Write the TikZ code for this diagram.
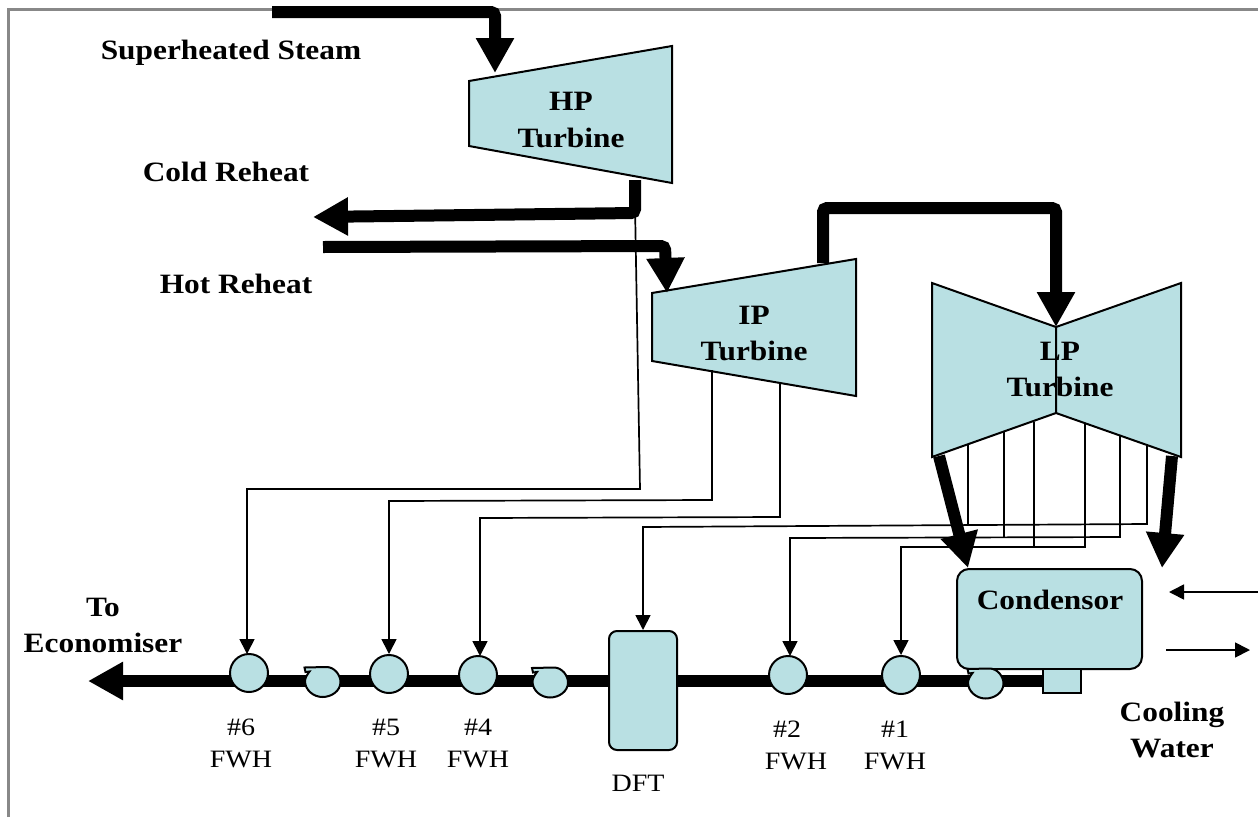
\documentclass[tikz,border=0pt]{standalone}
\usepackage{fontspec}
\setmainfont[FakeStretch=1.12]{Liberation Serif}
\usetikzlibrary{arrows.meta}
\definecolor{shapefill}{RGB}{185,224,227}
\definecolor{frame}{RGB}{136,136,136}
\tikzset{
  x=1pt,y=-1pt,
  lab/.style={font=\bfseries\fontsize{28}{36}\selectfont,inner sep=0pt,align=center},
  smalllab/.style={font=\fontsize{25}{32}\selectfont,inner sep=0pt,align=center},
  eqshape/.style={draw=black,line width=2pt,fill=shapefill,line join=miter},
  heavy/.style={line width=12pt,rounded corners=4pt,-{Triangle[length=35pt,width=36pt]}},
  thinarrow/.style={line width=1.7pt,-{Triangle[length=15pt,width=15pt]}},
  thinline/.style={line width=1.7pt},
  heater/.style={circle,eqshape,minimum size=38pt,inner sep=0pt},
  vessel/.style={rectangle,eqshape,rounded corners=12pt,inner sep=0pt},
  pump/.pic={\draw[eqshape] (-18,-14.5) -- (4,-15) .. controls (12,-15) and (18,-7) .. (18,0)
      .. controls (18,9) and (9,15) .. (0,15) .. controls (-9,15) and (-17.5,8) .. (-17.5,-1)
      .. controls (-17.5,-4) and (-15,-8) .. (-13,-10.5) -- (-17,-10) -- cycle;}
}
\begin{document}
\begin{tikzpicture}
\useasboundingbox (0,0) rectangle (1258,817);
% frame
\coordinate (frameBL) at (8.5,817);
\coordinate (frameTL) at (8.5,9.5);
\coordinate (frameTR) at (1258,9.5);
\draw[frame,line width=2.5pt] (frameBL) -- (frameTL) -- (frameTR);

% turbines
\draw[eqshape] (469,81) -- (672,46) -- (672,183) -- (469,146) -- cycle;
\draw[eqshape] (652,293) -- (856,259) -- (856,396) -- (652,361) -- cycle;
\draw[eqshape] (932,283) -- (1056,327) coordinate (lpTop) -- (1056,413) -- (932,457) -- cycle;
\draw[eqshape] (1181,283) -- (1056,327) -- (1056,413) -- (1181,457) -- cycle;

% named free ends
\coordinate (steamIn) at (272,12);
\coordinate (steamTip) at (495,73);
\coordinate (hpOut) at (635,180);
\coordinate (coldTip) at (313,217);
\coordinate (hotIn) at (323,247);
\coordinate (hotTip) at (667,293);
\coordinate (ipOut) at (823,263);
\coordinate (lpLeftOut) at (939,456);
\coordinate (lpRightOut) at (1172,456);
\coordinate (lpLeftTip) at (968,568);
\coordinate (lpRightTip) at (1162,568);
\coordinate (cwInStart) at (1258,592);
\coordinate (cwInTip) at (1169,592);
\coordinate (cwOutStart) at (1166,650);
\coordinate (cwOutTip) at (1250,650);
\coordinate (econTip) at (88,681);
\coordinate (wellIn) at (1043,681);

% lower equipment
\node[vessel,minimum width=185pt,minimum height=100pt] (cond) at (1049.5,619) {};
\node[rectangle,eqshape,minimum width=38pt,minimum height=24pt,inner sep=0pt] (well) at (1062,681) {};

% main feed line
\draw[line width=12pt,-{Triangle[length=35pt,width=36pt]}] (wellIn) -- (econTip);
\node[vessel,rounded corners=8pt,minimum width=68pt,minimum height=119pt] (dft) at (643,690.5) {};
\node[heater] (fwh6) at (249,673) {};
\node[heater] (fwh5) at (389,674) {};
\node[heater] (fwh4) at (478,675) {};
\node[heater] (fwh2) at (788,675) {};
\node[heater] (fwh1) at (901,675) {};
\pic at (322.5,682) {pump};
\pic at (550,682.5) {pump};
\pic at (985.5,683.5) {pump};

% thin extraction lines
\draw[thinarrow] (635,205) -- (640,489) -- (247,489) -- (247,654);
\draw[thinarrow] (712,370) -- (712,500) -- (389,501) -- (fwh5.north);
\draw[thinarrow] (780,384) -- (780,517) -- (480,518) -- (480,656);
\draw[thinarrow] (1147,445) -- (1147,524) -- (643,527) -- (dft.north);
\draw[thinline] (968,444.5) -- (968,524);
\draw[thinarrow] (1120,436) -- (1120,537) -- (790,538) -- (790,656);
\draw[thinline] (1004,432) -- (1004,537);
\draw[thinarrow] (1085,424) -- (1085,547) -- (901,547) -- (fwh1.north);
\draw[thinline] (1034,421.5) -- (1034,547);

% heavy steam lines
\draw[heavy] (steamIn) -- (495,12) -- (steamTip);
\draw[heavy] (hpOut) -- (635,213) -- (coldTip);
\draw[heavy] (hotIn) -- (665,246) -- (hotTip);
\draw[heavy] (ipOut) -- (823,208) -- (1056,208) -- (lpTop);
\draw[heavy] (lpLeftOut) -- (lpLeftTip);
\draw[heavy] (lpRightOut) -- (lpRightTip);

% cooling water
\draw[thinarrow] (cwInStart) -- (cwInTip);
\draw[thinarrow] (cwOutStart) -- (cwOutTip);

% labels
\node[lab] (lSteam) at (231,53) {Superheated Steam};
\node[lab] (lCold) at (226,172) {Cold Reheat};
\node[lab] (lHot) at (236,284) {Hot Reheat};
\node[lab] (lHP) at (571,120) {HP\\Turbine};
\node[lab] (lIP) at (754,333) {IP\\Turbine};
\node[lab] (lLP) at (1060,369) {LP\\Turbine};
\node[lab] (lCond) at (1050,600) {Condensor};
\node[lab] (lEcon) at (103,625) {To\\Economiser};
\node[lab] (lCool) at (1172,730) {Cooling\\Water};
\node[smalllab] (l6) at (241,743) {\#6\\FWH};
\node[smalllab] (l5) at (386,743) {\#5\\FWH};
\node[smalllab] (l4) at (478,743) {\#4\\FWH};
\node[smalllab] (l2) at (796,745) {\#2\hspace*{18pt}\\FWH};
\node[smalllab] (l1) at (895,745) {\#1\\FWH};
\node[smalllab] (lDFT) at (638,783) {DFT};
\end{tikzpicture}
\end{document}
